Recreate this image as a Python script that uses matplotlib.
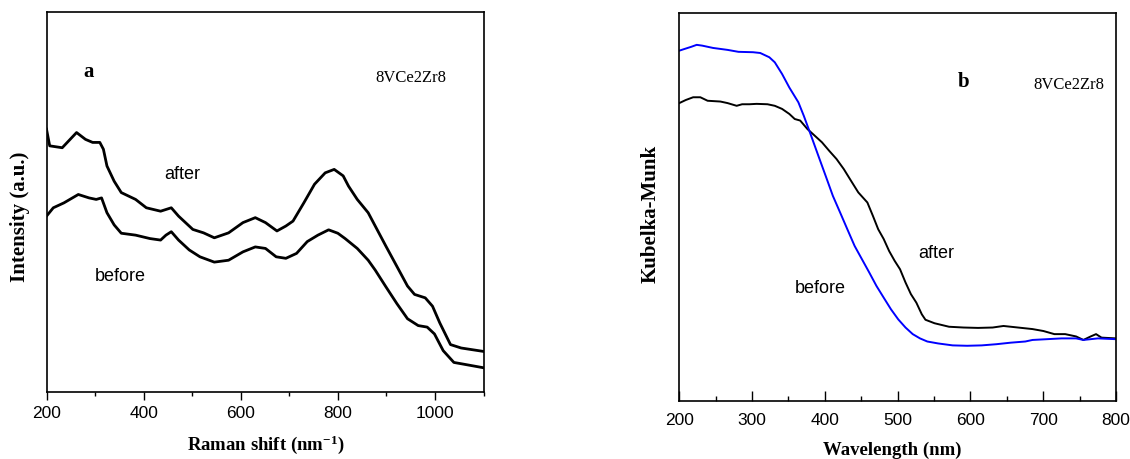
import matplotlib
matplotlib.use("Agg")
import matplotlib.pyplot as plt
from matplotlib.ticker import MultipleLocator, NullLocator

plt.rcParams['mathtext.default'] = 'regular'

SERIF = ['Liberation Serif', 'DejaVu Serif']
SANS = ['Liberation Sans', 'DejaVu Sans']

# ---------------- Panel a: Raman ----------------
raman_after_x = [200, 206.6, 232.4, 261.9, 280.3, 295, 309.8, 317.2, 324.5, 339.3, 354, 383.5,
                 405.6, 435, 457, 472, 501.4, 523.5, 545.6, 575, 604.6, 630, 651, 674.6, 693,
                 707.7, 730, 752, 774, 792.5, 811, 822, 840, 862.5, 877, 899, 921.5, 943.5,
                 958, 980, 995, 1010, 1032, 1054, 1100]
raman_after_y = [69.1, 64.7, 64.2, 68.2, 66.4, 65.6, 65.6, 63.8, 59.4, 55.4, 52.4, 50.6,
                 48.4, 47.5, 48.4, 46.2, 42.7, 41.8, 40.5, 41.8, 44.5, 45.8, 44.5, 42.3, 43.6,
                 44.9, 49.7, 54.6, 57.6, 58.5, 56.8, 54.1, 50.6, 47.1, 43.6, 38.3, 33.0, 27.8,
                 25.6, 24.7, 22.5, 18.1, 12.4, 11.5, 10.6]

raman_before_x = [200, 214, 236, 265.5, 287.6, 302.4, 313.4, 324.5, 339.3, 354, 383.5, 413,
                  435, 446, 457, 472, 494, 516, 545.6, 575, 604.6, 630, 651, 673, 693, 715,
                  737, 759, 781, 800, 815, 840, 862.5, 877, 899, 921.5, 943.5, 965.5, 984,
                  999, 1017, 1039, 1061, 1100]
raman_before_y = [46.2, 48.4, 49.7, 51.9, 51.0, 50.6, 51.0, 47.1, 43.9, 41.7, 41.2, 40.3,
                  39.9, 41.2, 42.1, 39.9, 37.3, 35.5, 34.1, 34.6, 36.8, 38.1, 37.7, 35.5, 35.1,
                  36.4, 39.5, 41.2, 42.6, 41.7, 40.3, 37.7, 34.6, 32.0, 27.6, 23.2, 19.2, 17.4,
                  17.0, 15.2, 10.8, 7.7, 7.2, 6.3]

# ---------------- Panel b: Kubelka-Munk ----------------
km_before_x = [200, 206.5, 216.5, 223.9, 231.4, 246.4, 266.3, 281.3, 301.3, 311.2, 323.7, 331.2,
               341.2, 351.2, 363.6, 371.1, 381.1, 391.1, 401, 411, 421, 430.9, 440.9, 450.9,
               460.9, 470.9, 480.8, 490.8, 500.8, 510.8, 520.7, 530.7, 540.7, 555.6, 575.6,
               595.5, 615.5, 635.5, 655.4, 675.4, 685.3, 705.3, 725.2, 745.2, 755.2, 775.1, 800]
km_before_y = [90.3, 90.7, 91.3, 91.8, 91.6, 91.0, 90.5, 90.0, 89.9, 89.7, 88.6, 87.3,
               84.3, 80.8, 77.0, 73.5, 68.4, 63.2, 58.1, 52.9, 48.6, 44.3, 40.0, 36.6,
               33.2, 29.7, 26.7, 23.7, 21.1, 19.0, 17.3, 16.2, 15.4, 14.9, 14.4,
               14.3, 14.4, 14.7, 15.1, 15.4, 15.8, 16.0, 16.2, 16.2, 15.8, 16.2, 16.0]

km_after_x = [200, 209, 219, 228.9, 238.9, 256.4, 266.3, 278.8, 286.3, 296.3, 306.2, 321.2,
              331.2, 341.2, 351.2, 358.6, 366.1, 376.1, 386.1, 396, 406, 416, 426, 435.9,
              445.9, 458.4, 465.9, 473.3, 480.8, 488.3, 495.8, 503.3, 510.8, 518.2, 525.7,
              533.2, 538.2, 550.7, 570.6, 590.6, 610.5, 630.5, 645.4, 660.4, 685.3, 700.3,
              715.3, 730.2, 745.2, 755.2, 765.2, 772.6, 780.1, 800]
km_after_y = [76.8, 77.6, 78.3, 78.3, 77.4, 77.2, 76.8, 76.1, 76.5, 76.5, 76.6, 76.5,
              76.1, 75.3, 74.0, 72.7, 72.3, 70.1, 68.4, 66.7, 64.5, 62.4, 59.8, 56.8,
              53.8, 51.2, 47.8, 44.3, 41.8, 38.7, 36.2, 34.0, 30.6, 27.6, 25.4,
              22.4, 21.0, 20.1, 19.2, 19.0, 18.9, 19.0, 19.4, 19.1, 18.6, 18.1,
              17.3, 17.3, 16.7, 15.8, 16.7, 17.3, 16.4, 16.2]

raman_ticks = [200, 400, 600, 800, 1000]
km_ticks = [200, 300, 400, 500, 600, 700, 800]

W, H = 1130, 460
fig = plt.figure(figsize=(W / 100, H / 100), dpi=100)

def fx(px):
    return px / W

def fy(py):
    return 1 - py / H

# Panel a axes
axa = fig.add_axes([fx(46.5), fy(392.7), (483.5 - 46.5) / W, (392.7 - 12.7) / H])
axa.plot(raman_after_x, raman_after_y, color='black', lw=2.0)
axa.plot(raman_before_x, raman_before_y, color='black', lw=2.0)
axa.set_xlim(200, 1100)
axa.set_ylim(0, 100)
axa.set_xticks(raman_ticks)
axa.xaxis.set_minor_locator(MultipleLocator(100))
axa.yaxis.set_major_locator(NullLocator())
axa.tick_params(axis='x', which='major', direction='out', length=5.5, width=1.0, pad=4,
                labelsize=12.5)
axa.tick_params(axis='x', which='minor', direction='out', length=3.2, width=1.0)
for lab in axa.get_xticklabels():
    lab.set_family(SANS)
for s in axa.spines.values():
    s.set_linewidth(1.2)
axa.text(287.6, 84.4, 'a', family=SERIF, fontweight='bold', fontsize=15, ha='center', va='center')
axa.text(950, 82.7, '8VCe2Zr8', family=SERIF, fontsize=12, ha='center', va='center')
axa.text(479, 57.5, 'after', family=SANS, fontsize=13, ha='center', va='center')
axa.text(352, 30.6, 'before', family=SANS, fontsize=13, ha='center', va='center')

# Panel b axes
axb = fig.add_axes([fx(679.3), fy(402.3), (1116 - 679.3) / W, (402.3 - 14) / H])
axb.plot(km_after_x, km_after_y, color='black', lw=1.4)
axb.plot(km_before_x, km_before_y, color='#0000ff', lw=1.4)
axb.set_xlim(200, 800)
axb.set_ylim(0, 100)
axb.set_xticks(km_ticks)
axb.xaxis.set_minor_locator(MultipleLocator(50))
axb.yaxis.set_major_locator(NullLocator())
axb.tick_params(axis='x', which='major', direction='in', length=7, width=1.0, pad=8,
                labelsize=12.5)
axb.tick_params(axis='x', which='minor', direction='in', length=3.5, width=1.0)
for lab in axb.get_xticklabels():
    lab.set_family(SANS)
for s in axb.spines.values():
    s.set_linewidth(1.2)
axb.text(590.6, 82.6, 'b', family=SERIF, fontweight='bold', fontsize=15, ha='center', va='center')
axb.text(735, 81.7, '8VCe2Zr8', family=SERIF, fontsize=12, ha='center', va='center')
axb.text(553, 38.3, 'after', family=SANS, fontsize=13, ha='center', va='center')
axb.text(393.5, 29.3, 'before', family=SANS, fontsize=13, ha='center', va='center')

# Axis labels
fig.text(fx(20.5), fy(217), 'Intensity (a.u.)', family=SERIF, fontweight='bold', fontsize=15,
         rotation=90, ha='center', va='center')
fig.text(fx(266), fy(445), 'Raman shift (nm$^{-1}$)', family=SERIF, fontweight='bold',
         fontsize=13.5, ha='center', va='center')
fig.text(fx(651), fy(213.5), 'Kubelka-Munk', family=SERIF, fontweight='bold', fontsize=15,
         rotation=90, ha='center', va='center')
fig.text(fx(892), fy(450), 'Wavelength (nm)', family=SERIF, fontweight='bold',
         fontsize=13.5, ha='center', va='center')

fig.savefig('out.png', dpi=100)
